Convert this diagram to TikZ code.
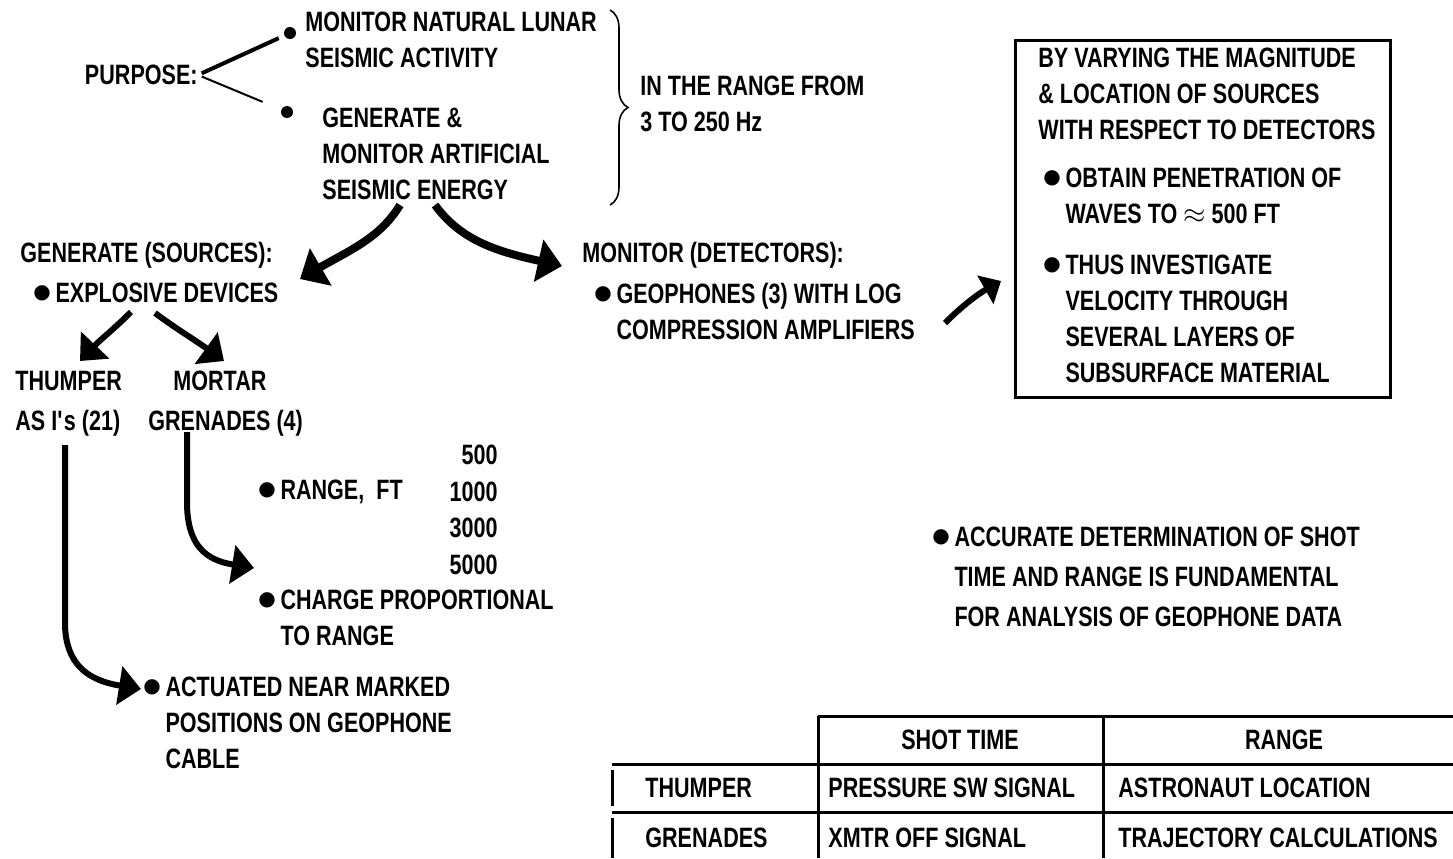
\documentclass[tikz,border=0pt]{standalone}
\usepackage{fontspec}
\setmainfont{Liberation Sans}[FakeStretch=0.77]
\newfontfamily\symfont{DejaVu Sans}
\usetikzlibrary{arrows.meta,decorations.pathreplacing}

\newcommand{\bul}{\raisebox{2pt}{\symfont\fontsize{10pt}{10pt}\selectfont ●}\,}
\newcommand{\hng}{\phantom{\bul}}

\tikzset{
  txt/.style={anchor=west, inner sep=0pt, align=left, font=\bfseries\fontsize{14pt}{18pt}\selectfont},
  num/.style={anchor=east, inner sep=0pt, align=right, font=\bfseries\fontsize{14pt}{18.3pt}\selectfont},
  dot/.style={circle, fill, inner sep=0pt, minimum size=6pt},
  bigarrow/.style={line width=4pt, -{Triangle[length=12pt,width=21pt]}},
  midarrow/.style={line width=3pt, -{Triangle[length=11pt,width=19pt]}},
  rule/.style={line width=1.5pt}
}

\begin{document}
\begin{tikzpicture}[x=0.5pt, y=-0.5pt]
  \useasboundingbox (0,0) rectangle (1453,858);

  % purpose and its two branches
  \node[txt, anchor=east] (purpose) at (198,75) {PURPOSE:};
  \node[dot] (dotA) at (290,33) {};
  \node[dot] (dotB) at (287,112) {};
  \draw[line width=2pt, shorten <=2pt, shorten >=3pt] (purpose.east) -- (dotA);
  \draw[line width=1pt, shorten <=2pt, shorten >=10pt] (purpose.east) -- (dotB);
  \node[txt] (natural) at (305,40) {MONITOR NATURAL LUNAR\\SEISMIC ACTIVITY};
  \node[txt] (artificial) at (322,154) {GENERATE \&\\MONITOR ARTIFICIAL\\SEISMIC ENERGY};
  \draw[line width=0.8pt, decorate, decoration={brace, amplitude=9pt}] (610,10) -- (610,205);
  \node[txt] (range) at (640,104) {IN THE RANGE FROM\\3 TO 250 Hz};

  % sources and detectors
  \node[txt] (gen) at (20,255) {GENERATE (SOURCES):};
  \node[txt] (expl) at (33,293) {\bul EXPLOSIVE DEVICES};
  \node[txt] (mon) at (582,255) {MONITOR (DETECTORS):};
  \node[txt] (geo) at (594,311) {\bul GEOPHONES (3) WITH LOG\\\hng COMPRESSION AMPLIFIERS};

  \coordinate (a1s) at (400,205);
  \coordinate (a1e) at (300,279);
  \coordinate (a2s) at (435,205);
  \coordinate (a2e) at (562,266);
  \draw[bigarrow] (a1s) .. controls (380,238) and (350,250) .. (a1e);
  \draw[bigarrow] (a2s) .. controls (462,242) and (500,252) .. (a2e);

  % right box
  \node[draw, line width=1.5pt, minimum width=187.5pt, minimum height=178.5pt, inner sep=0pt] (box) at (1202.5,218.5) {};
  \node[txt] (vary) at (1038,94) {BY VARYING THE MAGNITUDE\\\& LOCATION OF SOURCES\\WITH RESPECT TO DETECTORS};
  \node[txt] (obtain) at (1043,196) {\bul OBTAIN PENETRATION OF\\\hng WAVES TO $\approx$ 500 FT};
  \node[txt] (thus) at (1043,319) {\bul THUS INVESTIGATE\\\hng VELOCITY THROUGH\\\hng SEVERAL LAYERS OF\\\hng SUBSURFACE MATERIAL};
  \coordinate (a7s) at (945,323);
  \coordinate (a7e) at (1001,281);
  \draw[line width=3pt, -{Triangle[length=9pt,width=16pt]}] (a7s) .. controls (962,306) and (978,294) .. (a7e);

  % explosive devices
  \node[txt] (thumper) at (15,381) {THUMPER};
  \node[txt] (mortar) at (173,381) {MORTAR};
  \node[txt] (asi) at (15,423) {AS I\textquotesingle s (21)};
  \node[txt] (grenades) at (148,423) {GRENADES (4)};
  \coordinate (a3s) at (131,312);
  \coordinate (a3e) at (80,361);
  \coordinate (a4s) at (155,313);
  \coordinate (a4e) at (224,361);
  \draw[midarrow] (a3s) .. controls (115,328) and (100,340) .. (a3e);
  \draw[midarrow] (a4s) .. controls (175,328) and (195,340) .. (a4e);

  % grenades details
  \node[num] (ranges) at (498,510) {500\\1000\\3000\\5000};
  \node[txt] (rangeft) at (258,492) {\bul RANGE,\ \ FT};
  \node[txt] (charge) at (258,618) {\bul CHARGE PROPORTIONAL\\\hng TO RANGE};
  \coordinate (a5s) at (187,432);
  \coordinate (a5e) at (254,568);
  \draw[midarrow] (a5s) -- (187,505) .. controls (188,545) and (205,560) .. (a5e);

  % thumper details
  \node[txt] (actuated) at (143,723) {\bul ACTUATED NEAR MARKED\\\hng POSITIONS ON GEOPHONE\\\hng CABLE};
  \coordinate (a6s) at (65,445);
  \coordinate (a6e) at (141,689);
  \draw[midarrow] (a6s) -- (65,625) .. controls (66,662) and (85,680) .. (a6e);

  % timing note
  \node[txt, font=\bfseries\fontsize{14pt}{20pt}\selectfont] (accurate) at (932,577) {\bul ACCURATE DETERMINATION OF SHOT\\\hng TIME AND RANGE IS FUNDAMENTAL\\\hng FOR ANALYSIS OF GEOPHONE DATA};

  % table
  \draw[rule] (818,716) -- (1453,716);
  \draw[rule] (612,764) -- (1453,764);
  \draw[rule] (612,812) -- (1453,812);
  \draw[rule] (818,716) -- (818,858);
  \draw[rule] (1103,716) -- (1103,858);
  \draw[rule] (612,770) -- (612,806);
  \draw[rule] (612,818) -- (612,858);
  \node[txt, anchor=center] (shot) at (960,740) {SHOT TIME};
  \node[txt, anchor=center] (rng) at (1284,740) {RANGE};
  \node[txt] (rthump) at (645,788) {THUMPER};
  \node[txt] (rgren) at (645,838) {GRENADES};
  \node[txt] (press) at (828,788) {PRESSURE SW SIGNAL};
  \node[txt] (xmtr) at (828,838) {XMTR OFF SIGNAL};
  \node[txt] (astro) at (1118,788) {ASTRONAUT LOCATION};
  \node[txt] (traj) at (1118,838) {TRAJECTORY CALCULATIONS};
\end{tikzpicture}
\end{document}
